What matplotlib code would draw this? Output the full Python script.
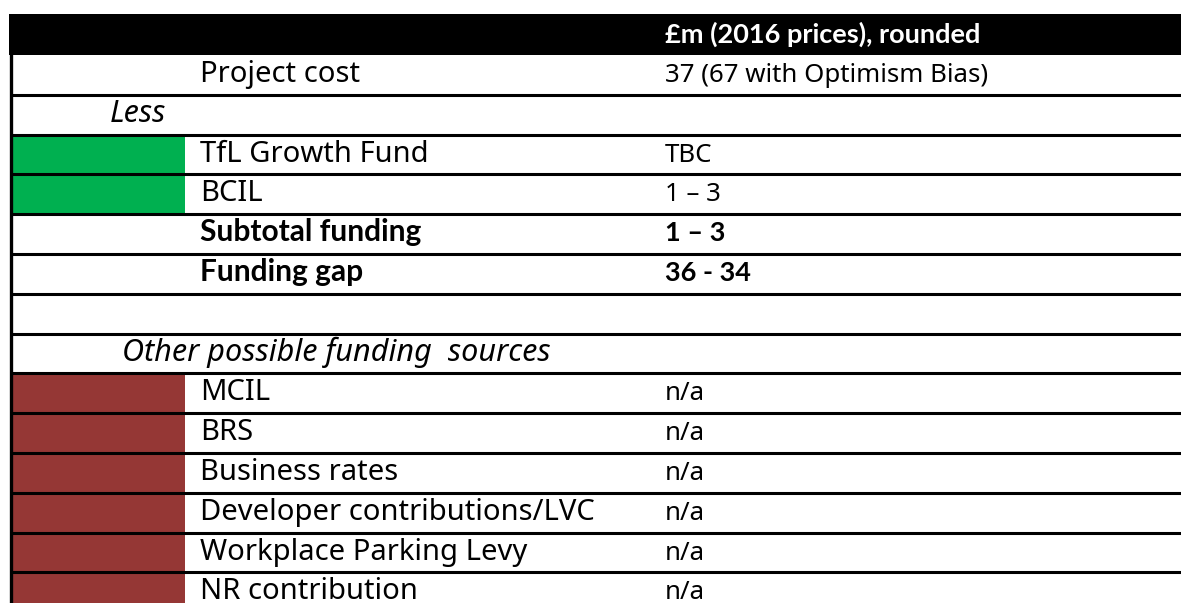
import matplotlib.pyplot as plt

plt.rcParams['font.family'] = ['Noto Sans', 'DejaVu Sans']

header = "£m (2016 prices), rounded"
labels = ["Project cost", "Less", "TfL Growth Fund", "BCIL", "Subtotal funding",
          "Funding gap", "", "Other possible funding  sources", "MCIL", "BRS",
          "Business rates", "Developer contributions/LVC", "Workplace Parking Levy",
          "NR contribution"]
values = ["37 (67 with Optimism Bias)", "", "TBC", "1 – 3", "1 – 3", "36 - 34", "", "",
          "n/a", "n/a", "n/a", "n/a", "n/a", "n/a"]
kinds = ["normal", "italic", "normal", "normal", "bold", "bold", "normal", "italic",
         "normal", "normal", "normal", "normal", "normal", "normal"]
swatch = [None, None, "green", "green", None, None, None, None,
          "red", "red", "red", "red", "red", "red"]

colors = {"green": "#00B050", "red": "#953735"}

W, H = 1181, 603
fig = plt.figure(figsize=(W / 100, H / 100), dpi=100)
ax = fig.add_axes([0, 0, 1, 1])
ax.set_xlim(0, W)
ax.set_ylim(H, 0)
ax.axis('off')

left = 10.5
top, head_h = 14, 41
row_h = 39.8
label_fs = {"normal": 21, "italic": 22, "bold": 21.5}
value_fs = 18.6
bold_font = ['Lato', 'DejaVu Sans']   # Noto Sans has no bold face here

# header
ax.add_patch(plt.Rectangle((9, top), W - 9, head_h, color='black', lw=0))
ax.text(665, top + head_h - 12, header, color='white', fontsize=19.5,
        fontweight='bold', family=bold_font, va='baseline')

for i, lab in enumerate(labels):
    y0 = top + head_h + i * row_h
    y1 = y0 + row_h
    base = y0 + 27
    k = kinds[i]
    if swatch[i]:
        ax.add_patch(plt.Rectangle((left, y0), 185 - left, row_h,
                                   color=colors[swatch[i]], lw=0))
    if k == "italic":
        x = 110 if lab == "Less" else 122
    else:
        x = 200
    if k == "bold":
        ax.text(x, base, lab, fontsize=label_fs[k], va='baseline',
                fontweight='bold', family=bold_font)
        ax.text(665, base, values[i], fontsize=19.5, va='baseline',
                fontweight='bold', family=bold_font)
    else:
        ax.text(x, base, lab, fontsize=label_fs[k], va='baseline',
                fontstyle='italic' if k == "italic" else 'normal')
        ax.text(665, base, values[i], fontsize=value_fs, va='baseline')
    if y1 < H:
        ax.hlines(y1, left, W, color='black', lw=2.2)

ax.vlines(left, top, H, color='black', lw=2.4)

fig.savefig('out.png', dpi=100)
